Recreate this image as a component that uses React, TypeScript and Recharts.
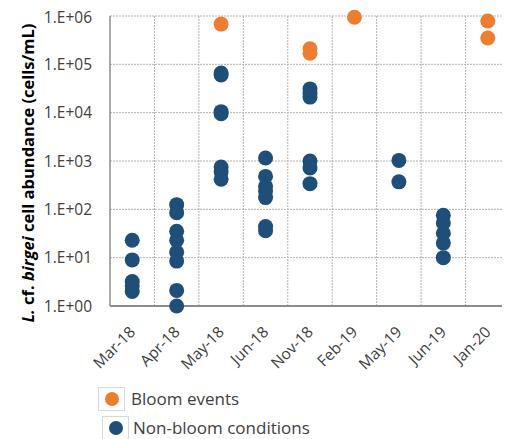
import React from 'react';
import { ScatterChart, Scatter, XAxis, YAxis, CartesianGrid, ReferenceLine, Legend } from 'recharts';

const categories = ['Mar-18', 'Apr-18', 'May-18', 'Jun-18', 'Nov-18', 'Feb-19', 'May-19', 'Jun-19', 'Jan-20'];
const bloomEvents: number[][] = [[], [], [680000], [], [210000, 170000], [940000], [], [], [790000, 350000]];
const nonBloomConditions: number[][] = [
  [23, 9, 3.2, 2.6, 2],
  [125, 85, 35, 23, 13, 8.5, 2.1, 1],
  [66000, 60000, 10500, 9500, 750, 600, 420],
  [1150, 480, 300, 240, 175, 44, 36],
  [31000, 25000, 21000, 1000, 720, 340],
  [],
  [1030, 370],
  [75, 52, 32, 20, 10],
  [],
];
const yTicks = [1, 10, 100, 1000, 10000, 100000, 1000000];
const seriesNames = ['Bloom events', 'Non-bloom conditions'];
const seriesColors = ['#ED7D31', '#1F4E79'];

const toPoints = (vals: number[][]) =>
  vals.flatMap((arr, i) => arr.map((v) => ({ x: i, y: v })));

const bloomData = toPoints(bloomEvents);
const nonBloomData = toPoints(nonBloomConditions);
const FONT = '"Open Sans", sans-serif';

const dot = (color: string) => (props: any) => (
  <circle cx={props.cx} cy={props.cy} r={7.5} fill={color} />
);

const XTick = (props: any) => {
  const { x, y, payload } = props;
  const ax = x + 4;
  const ay = y + 19;
  return (
    <text x={ax} y={ay} textAnchor="end" fontFamily={FONT} fontSize={15.5} fill="#404040"
      transform={`rotate(-45, ${ax}, ${ay})`}>
      {categories[payload.value]}
    </text>
  );
};

const YTick = (props: any) => {
  const { x, y, payload } = props;
  const e = Math.round(Math.log10(payload.value));
  return (
    <text x={x - 10} y={y} dy={5.5} textAnchor="end" fontFamily={FONT} fontSize={15.5} fill="#404040">
      {`1.E+${String(e).padStart(2, '0')}`}
    </text>
  );
};

const YLabel = () => (
  <text x={22} y={165} transform="rotate(-90, 22, 165)" textAnchor="middle" fontFamily={FONT}
    fontSize={16.5} fontWeight="bold" fill="#000" dominantBaseline="middle">
    <tspan fontStyle="italic">L.</tspan>
    <tspan> cf. </tspan>
    <tspan fontStyle="italic">birgei</tspan>
    <tspan> cell abundance (cells/mL)</tspan>
  </text>
);

const LegendContent = () => (
  <div style={{ fontFamily: FONT, fontSize: 17, color: '#404040' }}>
    {seriesNames.map((n, i) => (
      <div key={n} style={{ display: 'flex', alignItems: 'center', height: 29, marginLeft: i * 4 }}>
        <div style={{ width: 27, height: 24, border: '1px solid #d9d9d9', display: 'flex', alignItems: 'center', justifyContent: 'center', marginRight: 6 - i * 2, boxSizing: 'border-box' }}>
          <svg width={16} height={16}><circle cx={8} cy={8} r={7} fill={seriesColors[i]} /></svg>
        </div>
        <span>{n}</span>
      </div>
    ))}
  </div>
);

export default function App() {
  return (
    <div style={{ position: 'relative', width: 502, height: 431 }}>
      <ScatterChart width={502} height={431} margin={{ top: 8, right: 0, bottom: 0, left: 0 }}>
        <CartesianGrid vertical={false} stroke="#b3b3b3" strokeDasharray="2 1" />
        <XAxis type="number" dataKey="x" domain={[-0.5, 8.5]} ticks={[0, 1, 2, 3, 4, 5, 6, 7, 8]}
          interval={0} tickLine={false} axisLine={{ stroke: '#8c8c8c', strokeWidth: 2 }}
          tick={<XTick />} height={75} />
        <YAxis type="number" dataKey="y" scale="log" domain={[1, 1000000]} ticks={yTicks}
          allowDataOverflow={false} tickLine={false} axisLine={{ stroke: '#8c8c8c', strokeWidth: 1.5 }}
          tick={<YTick />} width={102} label={<YLabel />} />
        {[0.5, 1.5, 2.5, 3.5, 4.5, 5.5, 6.5, 7.5].map((v) => (
          <ReferenceLine key={v} x={v} stroke="#b3b3b3" strokeDasharray="2 1" />
        ))}
        <Legend verticalAlign="bottom" content={<LegendContent />}
          wrapperStyle={{ position: 'absolute', left: 90, top: 376, width: 280, height: 58 }} />
        <Scatter name={seriesNames[0]} data={bloomData} fill={seriesColors[0]} shape={dot(seriesColors[0])} isAnimationActive={false} />
        <Scatter name={seriesNames[1]} data={nonBloomData} fill={seriesColors[1]} shape={dot(seriesColors[1])} isAnimationActive={false} />
      </ScatterChart>
    </div>
  );
}
